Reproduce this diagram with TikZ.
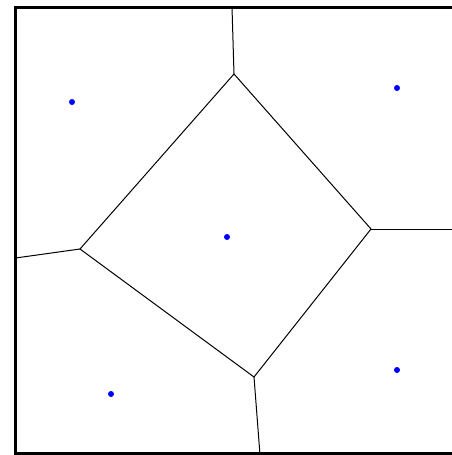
\documentclass[tikz,border=0pt]{standalone}
\usepackage{tikz}

\tikzset{
  cellEdge/.style={black, line width=1pt},
  frameLine/.style={black, line width=3pt},
  seedDot/.style={fill=blue}
}

\begin{document}
\begin{tikzpicture}[x=1pt, y=-1pt]
  \clip (0, 0) rectangle (452, 455);
  \fill[white] (0, 0) rectangle (452, 455);

  % Khung ngoài
  \draw[frameLine] (15.5, 7) rectangle (470, 453.5);

  % Các đỉnh Voronoi
  \coordinate (vTop) at (234, 74);
  \coordinate (vLeft) at (80, 249);
  \coordinate (vRight) at (371, 229);
  \coordinate (vBottom) at (254, 377);

  % Các điểm trên biên
  \coordinate (bTop) at (232, 7);
  \coordinate (bLeft) at (15.5, 258);
  \coordinate (bRight) at (460, 229);
  \coordinate (bBottom) at (260, 455);

  % Ô ở giữa
  \draw[cellEdge] (vTop) -- (vRight) -- (vBottom) -- (vLeft) -- cycle;

  % Các cạnh ra biên
  \draw[cellEdge] (vTop) -- (bTop);
  \draw[cellEdge] (vLeft) -- (bLeft);
  \draw[cellEdge] (vRight) -- (bRight);
  \draw[cellEdge] (vBottom) -- (bBottom);

  % Các điểm sinh
  \foreach \px/\py in {72/102, 397/88, 227/237, 111/394, 397/370} {
    \fill[seedDot] (\px, \py) circle (3);
  }
\end{tikzpicture}
\end{document}
